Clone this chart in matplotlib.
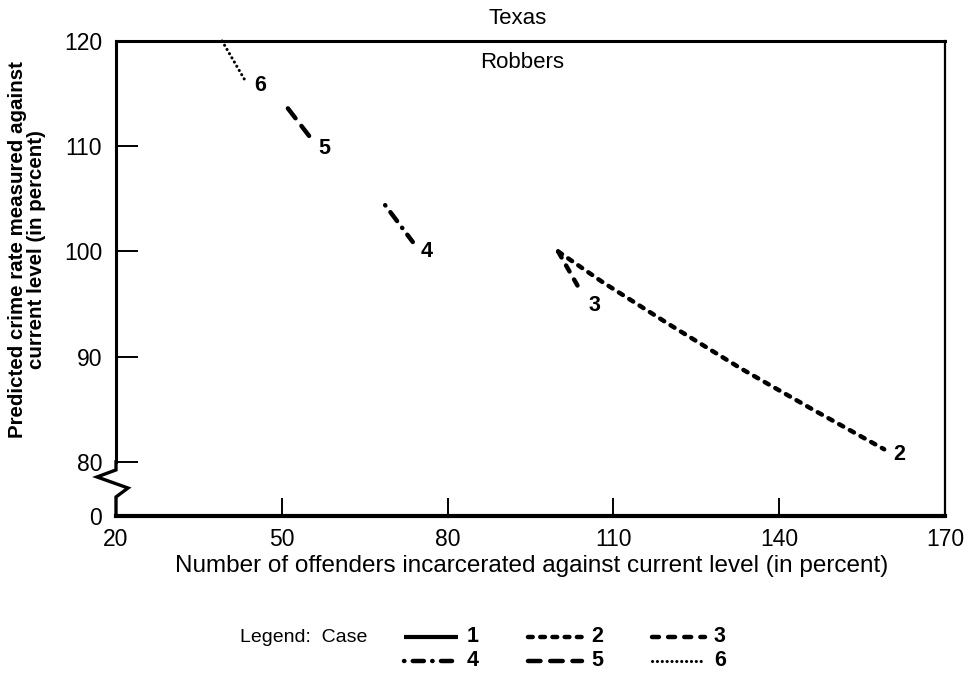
import matplotlib
matplotlib.use("Agg")
import matplotlib.pyplot as plt
from matplotlib.lines import Line2D
import matplotlib.transforms as mtransforms

plt.rcParams['font.family'] = ['Liberation Sans', 'DejaVu Sans']
plt.rcParams['lines.scale_dashes'] = False

# Predicted crime rate (%) against incarceration level (%) for each case
case2_x = [100, 108, 120, 133, 146, 159]
case2_y = [100, 97.1, 93.1, 88.9, 85.0, 81.2]
case3_x = [100, 104]
case3_y = [100, 96.3]
case4_x = [68.7, 73.7]
case4_y = [104.4, 100.9]
case5_x = [51.1, 55.5]
case5_y = [113.6, 110.6]
case6_x = [39.2, 43.3]
case6_y = [120, 116.3]

case_labels = ["1", "2", "3", "4", "5", "6"]
x_ticks = [20, 50, 80, 110, 140, 170]
y_ticks = [80, 90, 100, 110, 120]
y_floor = 74.86  # bottom of the broken axis, labelled 0

styles = {
    "1": dict(linestyle="-", linewidth=3.0),
    "2": dict(linestyle=(0, (3.4, 5.4)), linewidth=3.2),
    "3": dict(linestyle=(0, (5.0, 6.6)), linewidth=3.2),
    "4": dict(linestyle=(0, (0.3, 6.0, 8.0, 6.0)), linewidth=3.2),
    "5": dict(linestyle=(0, (9.0, 7.0)), linewidth=3.2),
    "6": dict(linestyle=(0, (0.1, 3.4)), linewidth=2.2),
}

W, H = 968, 679
fig = plt.figure(figsize=(W / 100, H / 100), dpi=100)
ax = fig.add_axes([116 / W, 1 - 516 / H, (945 - 116) / W, (516 - 41) / H])
ax.set_xlim(20, 170)
ax.set_ylim(y_floor, 120)

series = {
    "2": (case2_x, case2_y, (11, -4)),
    "3": (case3_x, case3_y, (10, -11)),
    "4": (case4_x, case4_y, (10, -7)),
    "5": (case5_x, case5_y, (9, -6)),
    "6": (case6_x, case6_y, (11, -4)),
}
for key, (xs, ys, off) in series.items():
    ax.plot(xs, ys, color="black", solid_capstyle="round",
            dash_capstyle="round", clip_on=False, **styles[key])
    ax.annotate(key, (xs[-1], ys[-1]), xytext=off, textcoords="offset points",
                ha="center", va="center", fontsize=15.5, fontweight="bold")

# Spines
for side, lw in (("top", 2.2), ("right", 1.6), ("bottom", 3.0), ("left", 2.2)):
    ax.spines[side].set_linewidth(lw)
ax.spines["left"].set_bounds(80, 120)

# Zigzag break on the y axis
trans = mtransforms.blended_transform_factory(ax.transAxes, ax.transData)
zx = [0, 0, -0.0229, 0.0145, 0, 0]
zy = [80, 79.24, 78.57, 77.52, 76.67, y_floor]
ax.add_line(Line2D(zx, zy, transform=trans, color="black", linewidth=2.4,
                   clip_on=False, solid_joinstyle="miter"))

# Ticks
ax.set_xticks(x_ticks)
ax.set_xticklabels([str(t) for t in x_ticks])
ax.set_yticks([y_floor] + y_ticks)
ax.set_yticklabels(["0"] + [str(t) for t in y_ticks])
ax.tick_params(axis="x", direction="in", length=13, width=1.4, pad=9, labelsize=16.5)
ax.tick_params(axis="y", direction="in", length=16, width=1.4, pad=10, labelsize=16.5)
ax.yaxis.get_major_ticks()[0].tick1line.set_visible(False)
for t in (ax.xaxis.get_major_ticks()[0], ax.xaxis.get_major_ticks()[-1]):
    t.tick1line.set_visible(False)

# Titles and axis labels
fig.text(518 / W, 1 - 18 / H, "Texas", ha="center", va="center", fontsize=16)
ax.text(0.49, 1 - (62 - 41) / 475, "Robbers", transform=ax.transAxes,
        ha="center", va="center", fontsize=16)
fig.text(532 / W, 1 - 566 / H,
         "Number of offenders incarcerated against current level (in percent)",
         ha="center", va="center", fontsize=17.5)
fig.text(27 / W, 1 - 250 / H,
         "Predicted crime rate measured against\ncurrent level (in percent)",
         rotation=90, ha="center", va="center", multialignment="center",
         fontsize=14.8, fontweight="bold", linespacing=1.05)

# Legend block
fig.text(240 / W, 1 - 637 / H, "Legend:  Case", ha="left", va="center", fontsize=14)
legend_cols = [(404, 458, 467), (528, 582, 591), (652, 705, 714)]
legend_rows = [637, 661]
for i, key in enumerate(case_labels):
    x0, x1, xt = legend_cols[i % 3]
    yy = 1 - legend_rows[i // 3] / H
    fig.add_artist(Line2D([x0 / W, x1 / W], [yy, yy], transform=fig.transFigure,
                          color="black", solid_capstyle="butt",
                          dash_capstyle="round", **styles[key]))
    fig.text(xt / W, yy, key, ha="left", va="center", fontsize=15.5, fontweight="bold")

fig.savefig("out.png", dpi=100)
